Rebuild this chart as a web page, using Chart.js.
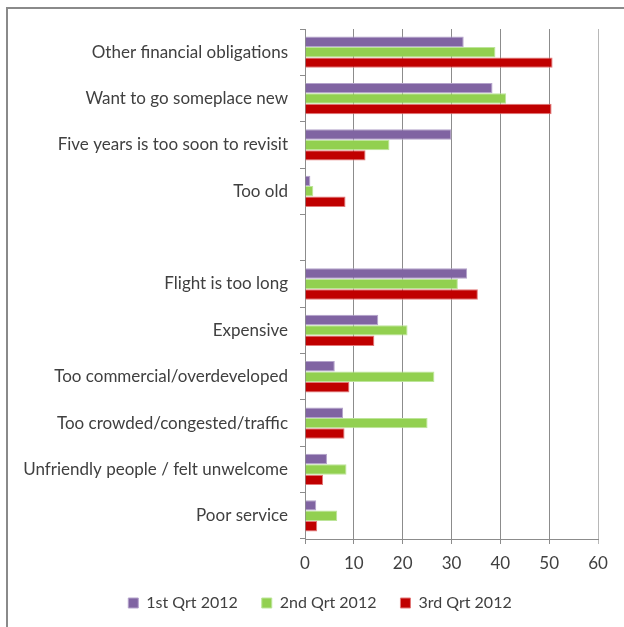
<!DOCTYPE html>
<html>
<head>
<meta charset="utf-8">
<script src="https://cdn.jsdelivr.net/npm/chart.js@4/dist/chart.umd.min.js"></script>
<style>
  html, body { margin: 0; padding: 0; background: #fff; }
  #wrap { position: relative; width: 624px; height: 627px; }
  #frame {
    position: absolute; left: 6px; top: 7px; right: -10px; bottom: -10px;
    border-left: 2px solid #8a8a8a; border-top: 2px solid #8a8a8a;
  }
  canvas { position: absolute; left: 0; top: 0; }
</style>
</head>
<body>
<div id="wrap">
  <div id="frame"></div>
  <canvas id="chart" width="624" height="627"></canvas>
</div>
<script>
  'use strict';

  // reasons, top to bottom (empty slot splits the two groups)
  var reasons = [
    'Other financial obligations',
    'Want to go someplace new',
    'Five years is too soon to revisit',
    'Too old',
    '',
    'Flight is too long',
    'Expensive',
    'Too commercial/overdeveloped',
    'Too crowded/congested/traffic',
    'Unfriendly people / felt unwelcome',
    'Poor service'
  ];

  var q1 = [32.5, 38.4, 30.0, 1.1, null, 33.2, 15.0, 6.1, 7.8, 4.5, 2.3];
  var q2 = [39.0, 41.2, 17.3, 1.7, null, 31.3, 21.0, 26.5, 25.1, 8.5, 6.6];
  var q3 = [50.7, 50.5, 12.4, 8.3, null, 35.4, 14.2, 9.1, 8.1, 3.7, 2.5];

  var seriesNames = ['1st Qrt 2012', '2nd Qrt 2012', '3rd Qrt 2012'];
  var xTicks = [0, 10, 20, 30, 40, 50, 60];

  var fontFamily = 'Lato, "Open Sans", sans-serif';
  var textColor = '#404040';
  var lineColor = '#8c8c8c';

  function dataset(label, values, fill, edge){
    return {
      label: label,
      data: values,
      backgroundColor: fill,
      borderColor: edge,
      borderWidth: 1,
      categoryPercentage: 0.675,
      barPercentage: 1.0
    };
  }

  // nudge the legend right so it sits centred under the whole frame
  var legendShift = {
    id: 'legendShift',
    afterLayout: function(chart){
      if (chart.legend){
        chart.legend.left = 42;
      }
    }
  };

  var ctx = document.getElementById('chart').getContext('2d');
  var chart = new Chart(ctx, {
    type: 'bar',
    data: {
      labels: reasons,
      datasets: [
        dataset(seriesNames[0], q1, '#8064A2', '#B4A3CB'),
        dataset(seriesNames[1], q2, '#92D050', '#BDE59A'),
        dataset(seriesNames[2], q3, '#C00000', '#E27878')
      ]
    },
    plugins: [legendShift],
    options: {
      indexAxis: 'y',
      responsive: false,
      animation: false,
      layout: {
        padding: { left: 0, right: 26, top: 29, bottom: 6 }
      },
      plugins: {
        legend: {
          position: 'bottom',
          labels: {
            boxWidth: 10,
            boxHeight: 10,
            padding: 24,
            color: textColor,
            font: { family: fontFamily, size: 16 }
          }
        },
        tooltip: { enabled: false }
      },
      scales: {
        y: {
          afterFit: function(scale){ scale.width = 305; },
          border: { color: lineColor, width: 1 },
          grid: {
            drawOnChartArea: false,
            drawTicks: true,
            tickLength: 5,
            color: lineColor
          },
          ticks: {
            padding: 12,
            color: textColor,
            font: { family: fontFamily, size: 17 }
          }
        },
        x: {
          min: 0,
          max: 60,
          afterFit: function(scale){ scale.height = 32; },
          afterBuildTicks: function(scale){
            scale.ticks = xTicks.map(function(v){ return { value: v }; });
          },
          border: { color: lineColor, width: 1 },
          grid: {
            color: function(c){ return c.tick && c.tick.value === 60 ? '#b8b8b8' : lineColor; },
            tickLength: 5
          },
          ticks: {
            padding: 9,
            color: textColor,
            font: { family: fontFamily, size: 17 }
          }
        }
      }
    }
  });
</script>
</body>
</html>
